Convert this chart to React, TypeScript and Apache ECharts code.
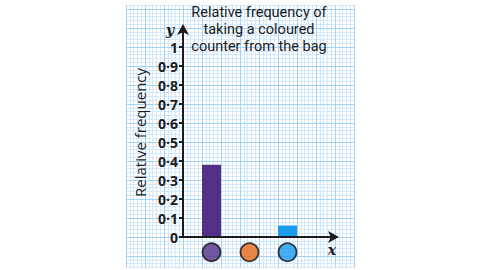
import React, { useEffect, useRef } from "react";
import * as echarts from "echarts";

const categories = ["Purple", "Orange", "Blue"];
const relativeFrequency = [0.38, 0, 0.06];
const categoryPositions = [1.5, 3.5, 5.5];
const barColors = ["#533086", "#e8681a", "#1d9bef"];
const tickValues = [0, 0.1, 0.2, 0.3, 0.4, 0.5, 0.6, 0.7, 0.8, 0.9, 1];
const tickLabels = ["0", "0·1", "0·2", "0·3", "0·4", "0·5", "0·6", "0·7", "0·8", "0·9", "1"];
const titleLines = ["Relative frequency of", "taking a coloured", "counter from the bag"];
const yAxisTitle = "Relative frequency";

const FONT = "'Open Sans', 'Noto Sans', sans-serif";
const TITLE_FONT = "Roboto, 'Open Sans', sans-serif";
const INK = "#1c1c1c";

export default function App() {
  const ref = useRef<HTMLDivElement>(null);
  useEffect(() => {
    document.body.style.margin = "0";
    const chart = echarts.init(ref.current!, null, { renderer: "svg" });
    const minorColor = "#d3e9fb";
    const majorColor = "#a6d3f6";
    const hidden = { show: false };
    const option: any = {
      animation: false,
      backgroundColor: "#ffffff",
      grid: [
        { left: 126, width: 228, top: 5.2, height: 262.2 },
        { left: 126, width: 228, top: 5.2, height: 262.2 },
        { left: 126, width: 228, top: 9, height: 247 },
        { left: 183, width: 152, top: 28, height: 209 },
      ],
      xAxis: [
        { gridIndex: 0, type: "value", min: 0, max: 60, interval: 1, axisLine: hidden, axisTick: hidden, axisLabel: hidden, splitLine: { show: true, lineStyle: { color: minorColor, width: 1 } }, z: 0 },
        { gridIndex: 1, type: "value", min: 0, max: 12, interval: 1, axisLine: hidden, axisTick: hidden, axisLabel: hidden, splitLine: { show: true, lineStyle: { color: majorColor, width: 1 } }, z: 1 },
        { gridIndex: 2, type: "value", min: 0, max: 12, interval: 1, axisLine: hidden, axisTick: hidden, axisLabel: hidden, splitLine: hidden },
        {
          gridIndex: 3, type: "value", min: 0, max: 8, interval: 1,
          axisLine: { show: true, onZero: false, lineStyle: { color: INK, width: 2 }, symbol: ["none", "arrow"], symbolSize: [9, 11], symbolOffset: [0, 4] },
          axisTick: hidden, axisLabel: hidden, splitLine: hidden, z: 5,
        },
      ],
      yAxis: [
        { gridIndex: 0, type: "value", min: -8, max: 61, interval: 1, axisLine: hidden, axisTick: hidden, axisLabel: hidden, splitLine: { show: true, lineStyle: { color: minorColor, width: 1 } }, z: 0 },
        { gridIndex: 1, type: "value", min: 0, max: 10, interval: 1, axisLine: hidden, axisTick: hidden, axisLabel: hidden, splitLine: hidden },
        { gridIndex: 2, type: "value", min: -1, max: 12, interval: 1, axisLine: hidden, axisTick: hidden, axisLabel: hidden, splitLine: { show: true, lineStyle: { color: majorColor, width: 1 } }, z: 1 },
        {
          gridIndex: 3, type: "value", min: 0, max: 1.1, interval: 0.1,
          name: yAxisTitle, nameLocation: "middle", nameRotate: 90, nameGap: 36,
          nameTextStyle: { fontFamily: FONT, fontSize: 15, color: INK },
          axisLine: { show: true, onZero: false, lineStyle: { color: INK, width: 2 }, symbol: ["none", "arrow"], symbolSize: [9, 11], symbolOffset: [0, 4] },
          axisTick: { show: true, length: 4, inside: false, lineStyle: { color: INK, width: 2 }, customValues: tickValues },
          axisLabel: {
            show: true, margin: 5, fontFamily: FONT, fontSize: 14, fontWeight: "bold", color: INK,
            customValues: tickValues,
            formatter: (v: number) => {
              const i = tickValues.findIndex((t) => Math.abs(t - v) < 1e-6);
              return i >= 0 ? tickLabels[i] : "";
            },
          },
          splitLine: hidden, z: 5,
        },
      ],
      series: [
        {
          type: "bar", xAxisIndex: 3, yAxisIndex: 3, barWidth: 19, z: 3,
          data: relativeFrequency.map((v, i) => ({
            name: categories[i],
            value: [categoryPositions[i], v],
            itemStyle: { color: barColors[i] },
          })),
        },
        {
          type: "scatter", xAxisIndex: 3, yAxisIndex: 3, clip: false, symbol: "circle", symbolSize: 18, z: 6,
          data: categories.map((c, i) => ({
            name: c,
            value: [categoryPositions[i], -0.08],
            itemStyle: { color: barColors[i], borderColor: "#111111", borderWidth: 1.8 },
          })),
        },
      ],
      graphic: [
        ...titleLines.map((line, i) => ({
          type: "text", x: 259, y: 12 + i * 17, z: 10,
          style: {
            text: line, fontFamily: TITLE_FONT, fontSize: 14.5,
            fill: INK, align: "center", verticalAlign: "middle",
          },
        })),
        {
          type: "text", x: 170, y: 29.5, z: 10,
          style: { text: "y", fontFamily: "'DejaVu Serif', 'Liberation Serif', serif", fontStyle: "italic", fontWeight: "bold", fontSize: 14, fill: INK, align: "center", verticalAlign: "middle" },
        },
        {
          type: "text", x: 332, y: 250, z: 10,
          style: { text: "x", fontFamily: "'DejaVu Serif', 'Liberation Serif', serif", fontStyle: "italic", fontWeight: "bold", fontSize: 14, fill: INK, align: "center", verticalAlign: "middle" },
        },
      ],
    };
    chart.setOption(option);
    return () => chart.dispose();
  }, []);
  return <div ref={ref} style={{ width: 480, height: 270 }} />;
}
